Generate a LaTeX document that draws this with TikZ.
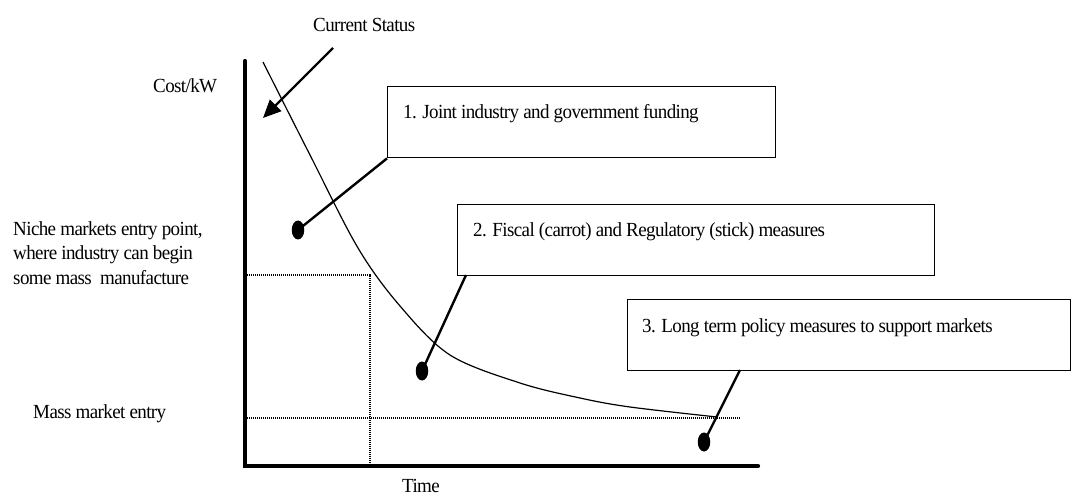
\documentclass[tikz,border=0pt]{standalone}
\usepackage{fontspec}
\setmainfont{Liberation Serif}[FakeStretch=0.95,LetterSpace=-3]
\usetikzlibrary{arrows.meta,shapes.geometric}
\begin{document}
\begin{tikzpicture}[x=1pt,y=-1pt,
  txt/.style={inner sep=0pt,anchor=base west,font=\fontsize{20}{24}\selectfont},
  boxnode/.style={draw,line width=1.4pt,minimum height=71pt,anchor=north west,inner sep=0pt},
  conn/.style={line width=2.4pt},
  dot/.style={ellipse,fill=black,minimum width=12.5pt,minimum height=19pt,inner sep=0pt},
  axis/.style={line width=4.2pt},
  dotline/.style={line width=1.8pt,dash pattern=on 1.2pt off 0.8pt}]
\useasboundingbox (0,0) rectangle (1074,497);
% axes
\coordinate (otop) at (245,61);
\coordinate (orig) at (245,466);
\coordinate (xend) at (758,466);
\draw[axis,line cap=round] (otop) -- (orig) -- (xend);
% dotted guides
\coordinate (n1) at (245,275);
\coordinate (n2) at (370,275);
\coordinate (n3) at (370,466);
\coordinate (m1) at (245,418);
\coordinate (m2) at (740,418);
\draw[dotline] (n1) -- (n2) -- (n3);
\draw[dotline] (m1) -- (m2);
% curve
\draw[line width=1.2pt] plot[smooth,tension=0.55] coordinates {(263,62) (310,155) (358,248) (400,306) (450,355) (520,383) (580,398) (630,407) (717,417)};
% labels
\node[txt] (cs) at (313,32) {Current Status};
\node[txt] (cost) at (153,93) {Cost/kW};
\node[txt] (niche1) at (13,236) {Niche markets entry point,};
\node[txt] (niche2) at (13,260) {where industry can begin};
\node[txt] (niche3) at (13,284) {some mass\ \ manufacture};
\node[txt] (mass) at (33,418) {Mass market entry};
\node[txt] (time) at (402,492) {Time};
% current status arrow
\coordinate (cst) at (333,48);
\coordinate (csh) at (263,118);
\draw[conn,-{Triangle[length=18pt,width=16pt]}] (cst) -- (csh);
% boxes
\node[boxnode,minimum width=388pt] (b1) at (387,86) {};
\node[txt] (t1) at (403,119) {1. Joint industry and government funding};
\node[boxnode,minimum width=477pt] (b2) at (457,204) {};
\node[txt] (t2) at (473,237) {2. Fiscal (carrot) and Regulatory (stick) measures};
\node[boxnode,minimum width=443pt] (b3) at (627,299) {};
\node[txt] (t3) at (642,332) {3. Long term policy measures to support markets};
% dots
\node[dot] (d1) at (298,230) {};
\node[dot] (d2) at (422,371) {};
\node[dot] (d3) at (704,442) {};
% connectors
\coordinate (c2) at (466,275);
\coordinate (c3) at (740,370);
\draw[conn] (b1.south west) -- (d1.center);
\draw[conn] (c2) -- (d2.center);
\draw[conn] (c3) -- (d3.center);
\end{tikzpicture}
\end{document}
